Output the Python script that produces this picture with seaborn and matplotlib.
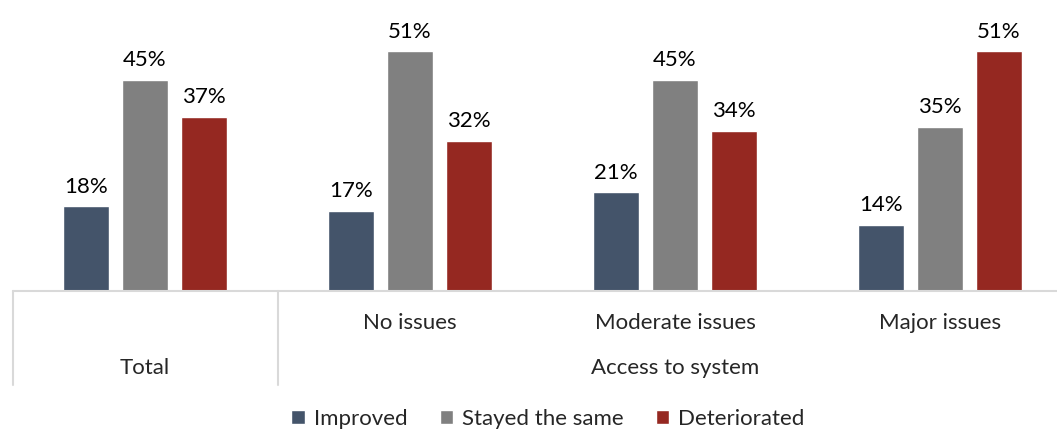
import matplotlib
matplotlib.use("Agg")
import matplotlib.pyplot as plt
import matplotlib.transforms as mtransforms
import seaborn as sns
import pandas as pd

categories = ["Total", "No issues", "Moderate issues", "Major issues"]
series_names = ["Improved", "Stayed the same", "Deteriorated"]
improved = [18, 17, 21, 14]
stayed = [45, 51, 45, 35]
deteriorated = [37, 32, 34, 51]
group_label = "Access to system"
colors = ["#44546A", "#808080", "#952821"]

rows = []
for name, vals in zip(series_names, [improved, stayed, deteriorated]):
    for c, v in zip(categories, vals):
        rows.append({"category": c, "series": name, "value": v})
df = pd.DataFrame(rows)

sns.set_theme(style="white")
plt.rcParams["font.family"] = ["Lato", "DejaVu Sans"]
FS = 16

W, H = 1057, 430
fig = plt.figure(figsize=(W / 100, H / 100), dpi=100)
left_px, right_px, base_px = 12.5, 1072.5, 291
ax = fig.add_axes([left_px / W, (H - base_px) / H, (right_px - left_px) / W, base_px / H])

sns.barplot(data=df, x="category", y="value", hue="series", order=categories,
            hue_order=series_names, palette=colors, width=0.668, gap=0.22,
            ax=ax, saturation=1, errorbar=None)

ax.set_xlim(-0.5, 3.5)
ax.set_ylim(0, base_px / 4.7)
for s in ax.spines.values():
    s.set_visible(False)
ax.set_xticks([])
ax.set_yticks([])
ax.set_xlabel("")
ax.set_ylabel("")

for cont in ax.containers:
    ax.bar_label(cont, labels=[f"{v:.0f}%" for v in cont.datavalues],
                 padding=7, fontsize=FS, color="#000000")

line_col = "#D9D9D9"
ax.axhline(0, color=line_col, lw=1.5, clip_on=False)
trans = mtransforms.blended_transform_factory(ax.transData, ax.transAxes)
depth = -(385 - base_px) / base_px
for xv in [-0.5, 0.5]:
    ax.plot([xv, xv], [0, depth], color=line_col, lw=1.5, clip_on=False, transform=trans)

y1 = -(323 - base_px) / base_px
y2 = -(368 - base_px) / base_px
for i, c in enumerate(categories[1:], start=1):
    ax.text(i, y1, c, transform=trans, ha="center", va="center", fontsize=FS)
ax.text(0, y2, categories[0], transform=trans, ha="center", va="center", fontsize=FS)
ax.text(2, y2, group_label, transform=trans, ha="center", va="center", fontsize=FS)

handles, labels = ax.get_legend_handles_labels()
ax.get_legend().remove()
ax.legend(handles, labels, loc="center", bbox_to_anchor=(0.505, -(419 - base_px) / base_px),
          ncol=3, frameon=False, fontsize=FS, handlelength=0.6, handleheight=0.6,
          handletextpad=0.4, columnspacing=1.45)

fig.savefig("out.png", dpi=100)
